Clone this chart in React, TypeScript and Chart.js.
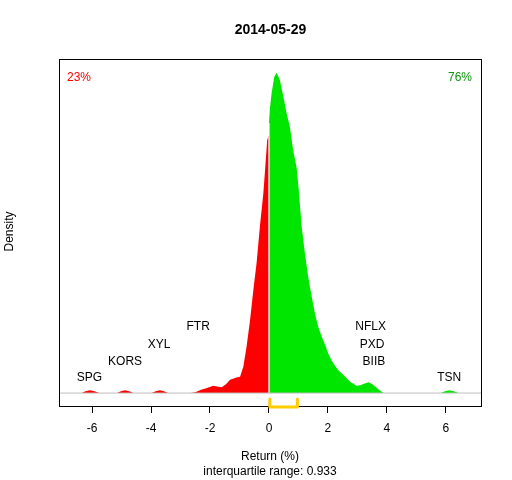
import React, { useEffect, useRef } from "react";
import { Chart, registerables } from "chart.js";

Chart.register(...registerables);

// ---- data ----
const chartTitle = "2014-05-29";
const redX = [-6.35, -6.22, -6.07, -5.92, -5.75, -5.15, -5.02, -4.88, -4.74, -4.6, -3.98, -3.84, -3.7, -3.56, -3.42, -2.65, -2.5, -2.3, -2.1, -1.89, -1.72, -1.6, -1.45, -1.32, -1.1, -0.98, -0.87, -0.76, -0.64, -0.53, -0.42, -0.31, -0.19, -0.14, -0.06, 0];
const redY = [0, 0.004, 0.006, 0.004, 0, 0, 0.004, 0.006, 0.004, 0, 0, 0.004, 0.006, 0.004, 0, 0, 0.002, 0.007, 0.011, 0.016, 0.014, 0.013, 0.02, 0.029, 0.034, 0.036, 0.058, 0.102, 0.161, 0.227, 0.286, 0.365, 0.44, 0.484, 0.557, 0.567];
const greenX = [0, 0.034, 0.09, 0.18, 0.26, 0.37, 0.49, 0.6, 0.71, 0.82, 0.94, 1.0, 1.11, 1.22, 1.33, 1.45, 1.56, 1.67, 1.79, 1.9, 2.01, 2.12, 2.24, 2.35, 2.52, 2.75, 2.97, 3.1, 3.2, 3.37, 3.5, 3.59, 3.72, 3.82, 3.9, 5.82, 5.97, 6.12, 6.27, 6.42];
const greenY = [0.594, 0.627, 0.66, 0.696, 0.705, 0.689, 0.652, 0.615, 0.586, 0.535, 0.495, 0.455, 0.366, 0.307, 0.256, 0.212, 0.175, 0.146, 0.124, 0.107, 0.087, 0.072, 0.06, 0.05, 0.04, 0.025, 0.016, 0.017, 0.02, 0.024, 0.02, 0.015, 0.008, 0.003, 0, 0, 0.004, 0.006, 0.004, 0];
const labelNames = ["SPG", "KORS", "XYL", "FTR", "TSN", "BIIB", "PXD", "NFLX"];
const labelX = [-6.09, -4.88, -3.73, -2.4, 6.11, 3.56, 3.5, 3.45];
const labelY = [0.034, 0.069, 0.107, 0.145, 0.034, 0.069, 0.107, 0.145];
const leftPct = "23%";
const rightPct = "76%";
const q1 = 0.03;
const q3 = 0.963;
const iqrText = "interquartile range: 0.933";
const xTicks = [-6, -4, -2, 0, 2, 4, 6];
const xMin = -7.12;
const xMax = 7.19;
const yMin = -0.0285;
const yMax = 0.735;

const FONT = "'Liberation Sans', Arial, sans-serif";

const overlay = {
  id: "overlay",
  afterDatasetsDraw(chart: any) {
    const { ctx, chartArea, scales } = chart;
    const xs = scales.x;
    const ys = scales.y;
    ctx.save();
    // stock labels
    ctx.font = `12px ${FONT}`;
    ctx.fillStyle = "#000";
    ctx.textAlign = "center";
    ctx.textBaseline = "middle";
    labelNames.forEach((n, i) => {
      ctx.fillText(n, xs.getPixelForValue(labelX[i]), ys.getPixelForValue(labelY[i]));
    });
    // percentages
    ctx.textAlign = "left";
    ctx.fillStyle = "#FF0000";
    ctx.fillText(leftPct, chartArea.left + 8, chartArea.top + 19);
    ctx.textAlign = "right";
    ctx.fillStyle = "#0A960A";
    ctx.fillText(rightPct, chartArea.right - 9, chartArea.top + 19);
    // box
    ctx.strokeStyle = "#000";
    ctx.lineWidth = 1;
    ctx.strokeRect(
      Math.round(chartArea.left) + 0.5,
      Math.round(chartArea.top) + 0.5,
      Math.round(chartArea.right - chartArea.left),
      Math.round(chartArea.bottom - chartArea.top)
    );
    // IQR bracket
    const b = chartArea.bottom + 1;
    const p1 = xs.getPixelForValue(q1);
    const p3 = xs.getPixelForValue(q3);
    ctx.strokeStyle = "#FFCC00";
    ctx.lineWidth = 3;
    ctx.lineCap = "round";
    ctx.lineJoin = "round";
    ctx.beginPath();
    ctx.moveTo(p1, b - 8);
    ctx.lineTo(p1, b);
    ctx.lineTo(p3, b);
    ctx.lineTo(p3, b - 8);
    ctx.stroke();
    // title
    ctx.fillStyle = "#000";
    ctx.textAlign = "center";
    ctx.font = `bold 14px ${FONT}`;
    ctx.fillText(chartTitle, (chartArea.left + chartArea.right) / 2 + 0.5, 30);
    // y label
    ctx.font = `12px ${FONT}`;
    ctx.translate(10, (chartArea.top + chartArea.bottom) / 2 - 1);
    ctx.rotate(-Math.PI / 2);
    ctx.fillText("Density", 0, 0);
    ctx.restore();
  },
};

export default function App() {
  const ref = useRef<HTMLCanvasElement | null>(null);
  useEffect(() => {
    if (!ref.current) return;
    const red = redX.map((x, i) => ({ x, y: redY[i] }));
    const green = greenX.map((x, i) => ({ x, y: greenY[i] }));
    const chart = new Chart(ref.current, {
      type: "line",
      data: {
        datasets: [
          {
            data: [{ x: xMin, y: 0 }, { x: xMax, y: 0 }],
            borderColor: "#BEBEBE",
            borderWidth: 1,
            pointRadius: 0,
            fill: false,
            order: 0,
          },
          {
            data: [{ x: 0, y: 0 }, { x: 0, y: greenY[0] }],
            borderColor: "#FFFFFF",
            borderWidth: 1.2,
            pointRadius: 0,
            fill: false,
            order: 0,
          },
          {
            data: red,
            borderColor: "#FF0000",
            backgroundColor: "#FF0000",
            borderWidth: 0,
            pointRadius: 0,
            fill: "origin",
            tension: 0,
            order: 1,
          },
          {
            data: green,
            borderColor: "#00E600",
            backgroundColor: "#00E600",
            borderWidth: 0,
            pointRadius: 0,
            fill: "origin",
            tension: 0,
            order: 1,
          },
        ],
      },
      options: {
        animation: false,
        responsive: false,
        events: [],
        layout: { padding: { left: 59, right: 31, top: 59, bottom: 0 } },
        plugins: { legend: { display: false }, tooltip: { enabled: false }, title: { display: false } },
        scales: {
          x: {
            type: "linear",
            min: xMin,
            max: xMax,
            afterBuildTicks: (scale: any) => {
              scale.ticks = xTicks.map((v) => ({ value: v }));
            },
            afterFit: (scale: any) => {
              scale.height = 74;
            },
            border: { display: false },
            grid: {
              display: true,
              drawOnChartArea: false,
              drawTicks: true,
              tickLength: 7,
              color: "#000",
              lineWidth: 1,
            },
            ticks: {
              color: "#000",
              padding: 8,
              maxRotation: 0,
              font: { family: FONT, size: 12 },
              callback: (v: any) => String(v),
            },
            title: {
              display: true,
              text: ["Return (%)", iqrText],
              color: "#000",
              font: { family: FONT, size: 12, lineHeight: 1.25 },
              padding: { top: 0, bottom: 1 },
            },
          },
          y: { type: "linear", display: false, min: yMin, max: yMax },
        },
      },
      plugins: [overlay],
    });
    return () => chart.destroy();
  }, []);
  return (
    <div style={{ position: "absolute", left: 0, top: 0, width: 512, height: 480, background: "#fff" }}>
      <canvas ref={ref} width={512} height={480} />
    </div>
  );
}
